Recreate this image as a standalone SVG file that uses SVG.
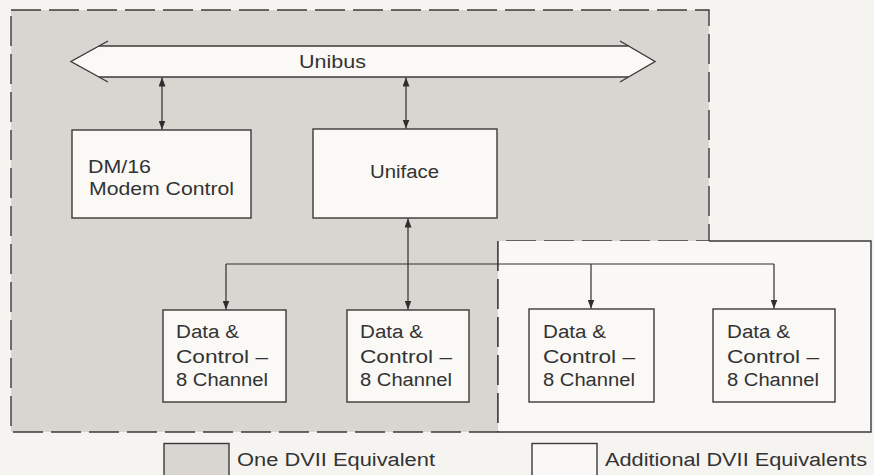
<svg xmlns="http://www.w3.org/2000/svg" width="874" height="475" viewBox="0 0 874 475">
  <defs>
    <marker id="ah" viewBox="0 0 9 7" refX="9" refY="3.5" markerWidth="9" markerHeight="7" markerUnits="userSpaceOnUse" orient="auto-start-reverse">
      <path d="M0,0 L9,3.5 L0,7 z" fill="#2e2e2e"/>
    </marker>
  </defs>
  <style>
    .ln { stroke: #3a3a3a; stroke-width: 1.4; fill: none; }
    .dash { stroke: #3a3a3a; stroke-width: 1.4; fill: none; stroke-dasharray: 30 8; }
    .box { fill: #faf9f6; stroke: #3a3a3a; stroke-width: 1.4; }
    .conn { stroke: #2e2e2e; stroke-width: 1.2; fill: none; }
    .t { font-family: "Liberation Sans", Arial, sans-serif; font-size: 18px; fill: #333333; }
  </style>

  <rect x="0" y="0" width="874" height="475" fill="#f6f4f1"/>

  <g id="one-dvii-region">
    <polygon points="11,10 709,10 709,241 498,241 498,432 11,432" fill="#d9d6d2"/>
    <polygon points="11,10 709,10 709,241 498,241 498,432 11,432" class="dash"/>
  </g>

  <g id="additional-dvii-region">
    <rect x="498" y="241" width="373" height="191" fill="#f9f8f6"/>
    <polyline points="709,241 871,241 871,432 498,432" class="ln"/>
    <line x1="498" y1="241" x2="498" y2="432" class="dash"/>
  </g>

  <g id="unibus">
    <polygon points="71,61.5 99,46 628.5,46 655,61.5 628.5,77 99,77" fill="#faf9f6"/>
    <line x1="99" y1="46" x2="628.5" y2="46" class="ln"/>
    <line x1="99" y1="77" x2="628.5" y2="77" class="ln"/>
    <polyline points="108,41 71,61.5 108,82" class="ln"/>
    <polyline points="620,41 655,61.5 620,82" class="ln"/>
    <text class="t" x="299" y="68" textLength="67" lengthAdjust="spacingAndGlyphs">Unibus</text>
  </g>

  <g id="dm16">
    <rect x="72" y="130" width="179" height="88" class="box"/>
    <text class="t" x="88" y="173" textLength="63" lengthAdjust="spacingAndGlyphs">DM/16</text>
    <text class="t" x="89" y="195" textLength="145" lengthAdjust="spacingAndGlyphs">Modem Control</text>
  </g>

  <g id="uniface">
    <rect x="313" y="129" width="184" height="89" class="box"/>
    <text class="t" x="370" y="178" textLength="69" lengthAdjust="spacingAndGlyphs">Uniface</text>
  </g>

  <g id="dc1">
    <rect x="163" y="310" width="123" height="92" class="box"/>
    <text class="t" x="176" y="338" textLength="63" lengthAdjust="spacingAndGlyphs">Data &amp;</text>
    <text class="t" x="176" y="363" textLength="92" lengthAdjust="spacingAndGlyphs">Control –</text>
    <text class="t" x="176" y="386" textLength="92" lengthAdjust="spacingAndGlyphs">8 Channel</text>
  </g>

  <g id="dc2">
    <rect x="347" y="310" width="122" height="92" class="box"/>
    <text class="t" x="360" y="338" textLength="63" lengthAdjust="spacingAndGlyphs">Data &amp;</text>
    <text class="t" x="360" y="363" textLength="92" lengthAdjust="spacingAndGlyphs">Control –</text>
    <text class="t" x="360" y="386" textLength="92" lengthAdjust="spacingAndGlyphs">8 Channel</text>
  </g>

  <g id="dc3">
    <rect x="529" y="309" width="125" height="93" class="box"/>
    <text class="t" x="543" y="338" textLength="63" lengthAdjust="spacingAndGlyphs">Data &amp;</text>
    <text class="t" x="543" y="363" textLength="92" lengthAdjust="spacingAndGlyphs">Control –</text>
    <text class="t" x="543" y="386" textLength="92" lengthAdjust="spacingAndGlyphs">8 Channel</text>
  </g>

  <g id="dc4">
    <rect x="713" y="309" width="122" height="93" class="box"/>
    <text class="t" x="727" y="338" textLength="63" lengthAdjust="spacingAndGlyphs">Data &amp;</text>
    <text class="t" x="727" y="363" textLength="92" lengthAdjust="spacingAndGlyphs">Control –</text>
    <text class="t" x="727" y="386" textLength="92" lengthAdjust="spacingAndGlyphs">8 Channel</text>
  </g>

  <g id="connectors">
    <line x1="162" y1="77.5" x2="162" y2="129.5" class="conn" marker-start="url(#ah)" marker-end="url(#ah)"/>
    <line x1="406" y1="77.5" x2="406" y2="128.5" class="conn" marker-start="url(#ah)" marker-end="url(#ah)"/>
    <line x1="408" y1="218.5" x2="408" y2="309.5" class="conn" marker-start="url(#ah)" marker-end="url(#ah)"/>
    <line x1="226" y1="264" x2="774" y2="264" class="conn"/>
    <line x1="226" y1="264" x2="226" y2="309.5" class="conn" marker-end="url(#ah)"/>
    <line x1="591" y1="264" x2="591" y2="308.5" class="conn" marker-end="url(#ah)"/>
    <line x1="774" y1="264" x2="774" y2="308.5" class="conn" marker-end="url(#ah)"/>
  </g>

  <g id="legend-one">
    <rect x="164" y="443.5" width="65" height="40" fill="#d9d6d2" stroke="#3a3a3a" stroke-width="1.4"/>
    <text class="t" x="237" y="466" textLength="198" lengthAdjust="spacingAndGlyphs">One DVII Equivalent</text>
  </g>

  <g id="legend-additional">
    <rect x="532" y="443.5" width="65" height="40" fill="#f9f8f6" stroke="#3a3a3a" stroke-width="1.4"/>
    <text class="t" x="605" y="466" textLength="262" lengthAdjust="spacingAndGlyphs">Additional DVII Equivalents</text>
  </g>
</svg>
